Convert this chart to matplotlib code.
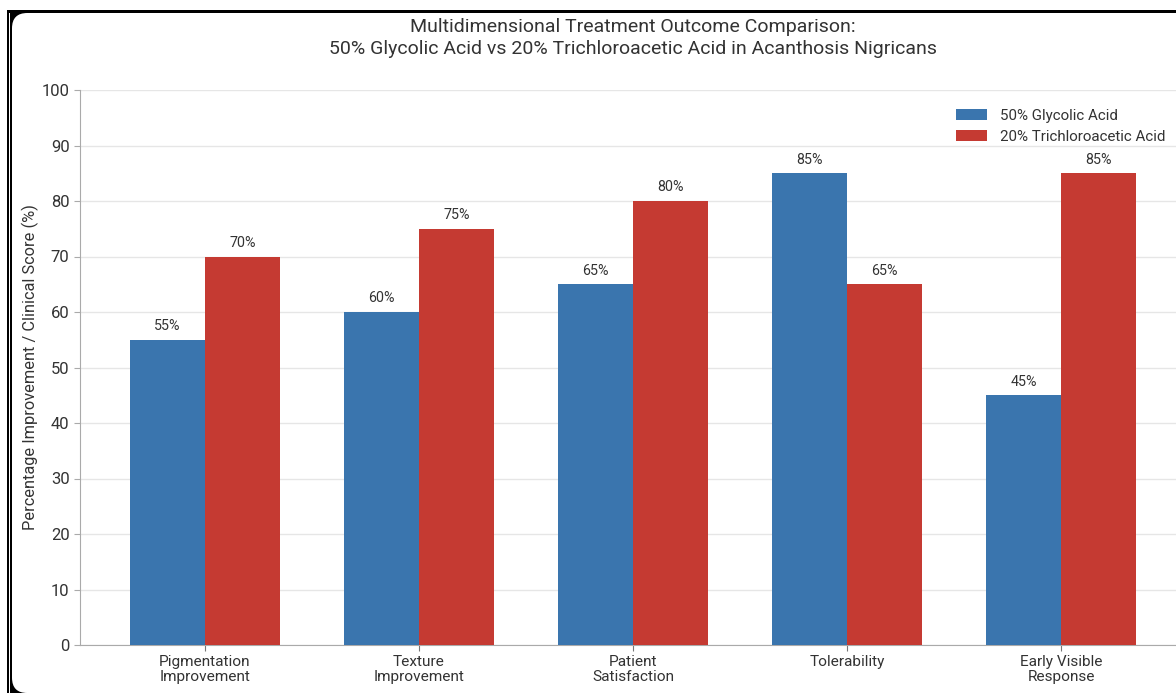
import matplotlib
matplotlib.use("Agg")
import matplotlib.pyplot as plt
import numpy as np
from matplotlib.patches import FancyBboxPatch, Rectangle

categories = ["Pigmentation\nImprovement", "Texture\nImprovement", "Patient\nSatisfaction",
              "Tolerability", "Early Visible\nResponse"]
glycolic = [55, 60, 65, 85, 45]
tca = [70, 75, 80, 65, 85]
series_names = ["50% Glycolic Acid", "20% Trichloroacetic Acid"]

BLUE = "#3a75ae"
RED = "#c53a32"
TEXT = "#333333"
W, H = 1176, 693

plt.rcParams["font.family"] = ["Roboto", "DejaVu Sans"]

fig = plt.figure(figsize=(W / 100, H / 100), dpi=100, facecolor="white")

# screenshot frame: black outer edge (double line on the left) with a rounded white card inside
fig.patches.append(Rectangle((7 / W, 0), 1, 1 - 10 / H, transform=fig.transFigure,
                             facecolor="black", edgecolor="none", zorder=-10))
fig.patches.append(Rectangle((9 / W, 0), 1.2 / W, 1 - 13 / H, transform=fig.transFigure,
                             facecolor="white", edgecolor="none", zorder=-9))
fig.patches.append(FancyBboxPatch((12 / W, 0), 1.2, 1 - 13 / H,
                                  boxstyle="round,pad=0,rounding_size=0.013",
                                  mutation_aspect=W / H,
                                  transform=fig.transFigure, facecolor="white",
                                  edgecolor="none", zorder=-8))

ax = fig.add_axes([80 / W, 1 - 645 / H, 1106 / W, 555 / H])
ax.set_facecolor("none")

x = np.arange(len(categories))
bw = 0.35
b1 = ax.bar(x - bw / 2, glycolic, bw, color=BLUE, label=series_names[0], zorder=3)
b2 = ax.bar(x + bw / 2, tca, bw, color=RED, label=series_names[1], zorder=3)

for bars in (b1, b2):
    for b in bars:
        ax.text(b.get_x() + b.get_width() / 2, b.get_height() + 1.2, f"{b.get_height():.0f}%",
                ha="center", va="bottom", fontsize=10.3, color=TEXT)

ax.set_xlim(-0.584, 4.584)
ax.set_ylim(0, 100)
ax.set_yticks(range(0, 101, 10))
ax.set_xticks(x)
ax.set_xticklabels(categories, fontsize=11.1, color=TEXT, linespacing=1.1)
ax.tick_params(axis="y", labelsize=12, colors=TEXT, length=4, color="#aaaaaa")
ax.tick_params(axis="x", length=4, color="#777777", pad=3)
ax.yaxis.grid(True, color="#e6e6e6", linewidth=1, zorder=0)
ax.set_axisbelow(True)
for s in ("top", "right"):
    ax.spines[s].set_visible(False)
for s in ("left", "bottom"):
    ax.spines[s].set_color("#aaaaaa")

ax.set_ylabel("Percentage Improvement / Clinical Score (%)", fontsize=11.8, color=TEXT, labelpad=2)

fig.text(633 / W, 1 - 38 / H,
         "Multidimensional Treatment Outcome Comparison:\n"
         "50% Glycolic Acid vs 20% Trichloroacetic Acid in Acanthosis Nigricans",
         ha="center", va="center", fontsize=14, color=TEXT, linespacing=1.32)

leg = fig.legend(loc="upper left", bbox_to_anchor=(945 / W, 1 - 98 / H),
                 bbox_transform=fig.transFigure, fontsize=10.9, frameon=False,
                 handlelength=2.1, handleheight=0.75, handletextpad=0.8,
                 labelspacing=0.5, borderpad=0.2)
for t in leg.get_texts():
    t.set_color(TEXT)

fig.savefig("out.png", dpi=100, facecolor="white")
